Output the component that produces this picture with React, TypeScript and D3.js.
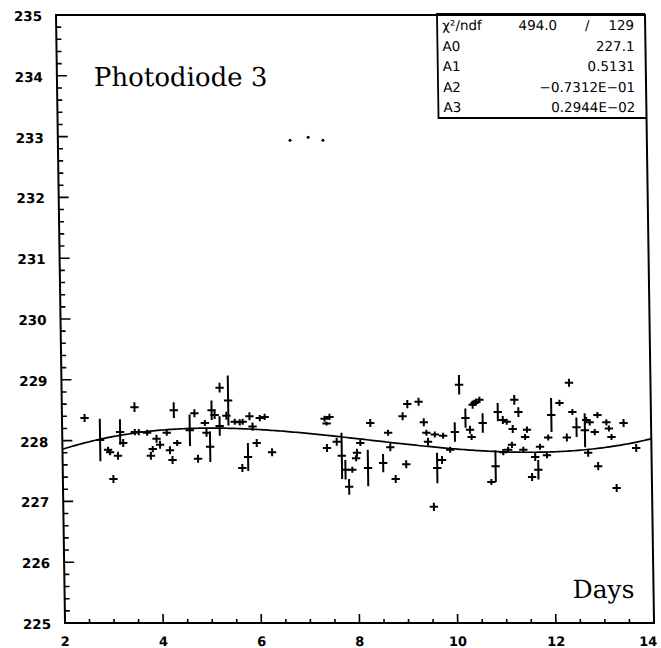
import React from "react";
import * as d3 from "d3";

// ---- data ----
const days = [
  2.46, 2.77, 2.93, 2.97, 3.13, 3.03, 3.24, 3.18, 3.48, 3.48, 3.56, 3.73, 3.80, 3.84, 3.92, 3.99,
  4.13, 4.19, 4.24, 4.28, 4.34, 4.60, 4.70, 4.76, 4.91, 4.94, 5.01, 5.05, 5.11, 5.22, 5.39, 5.21,
  5.35, 5.52, 5.62, 5.68, 5.82, 5.88, 5.78, 5.66, 5.96, 6.03, 6.13, 6.27,
  7.35, 7.45, 7.39, 7.39, 7.59, 7.69, 7.76, 7.83, 7.90, 8.00, 8.07, 7.98, 8.22, 8.28, 8.53, 8.68,
  8.78, 9.00, 8.94, 9.04, 9.27, 8.64, 9.37, 9.42, 9.45, 9.63, 9.73, 9.90, 9.59, 9.76, 10.10, 10.00,
  10.22, 10.37, 10.44, 10.34, 9.55,
  10.51, 10.41, 10.57, 10.31, 11.22, 11.30, 10.88, 10.98, 11.06, 11.18, 11.47, 11.43, 10.82, 10.73,
  10.98, 11.08, 11.16, 11.39, 11.63, 11.69, 11.56, 11.73, 11.87, 11.90, 11.97, 12.14, 12.28, 12.34,
  12.40, 12.48, 12.65, 12.68, 12.75, 12.85, 12.91, 13.09, 13.14, 13.19, 12.71, 12.91, 13.44, 13.69,
  13.28,
];
const values = [
  228.37, 228.01, 227.85, 227.81, 227.75, 227.37, 227.96, 228.14, 228.55, 228.14, 228.14, 228.13,
  227.75, 227.86, 228.03, 227.93, 228.13, 227.84, 227.68, 228.50, 227.96, 228.17, 228.45, 227.70,
  228.29, 228.13, 227.90, 228.50, 228.42, 228.87, 228.66, 228.24, 228.41, 228.31, 228.30, 228.31,
  228.40, 228.23, 227.73, 227.55, 227.96, 228.37, 228.39, 227.81,
  228.36, 228.39, 228.28, 227.88, 227.98, 227.75, 227.52, 227.24, 227.52, 227.80, 227.96, 227.71,
  227.55, 228.29, 227.63, 227.89, 227.37, 227.61, 228.40, 228.60, 228.64, 228.13, 228.30, 228.13,
  227.98, 227.55, 227.68, 227.85, 228.10, 228.08, 228.92, 228.14, 228.37, 228.59, 228.64, 228.06,
  226.91,
  228.67, 228.62, 228.29, 228.18, 228.67, 228.47, 228.47, 228.34, 228.31, 228.19, 228.18, 228.06,
  227.58, 227.32, 227.81, 227.85, 227.93, 227.85, 227.73, 227.52, 227.40, 227.90, 227.76, 228.05,
  228.42, 228.62, 228.05, 228.95, 228.47, 228.22, 228.17, 228.34, 228.30, 228.14, 228.42, 228.30,
  228.20, 228.06, 227.80, 227.58, 228.29, 227.88, 227.22,
];
const errors = [
  0.066, 0.35, 0.05, 0.05, 0.066, 0.066, 0.066, 0.21, 0.08, 0.05, 0.05, 0.05, 0.066, 0.05, 0.066,
  0.066, 0.05, 0.066, 0.066, 0.13, 0.05, 0.26, 0.066, 0.066, 0.05, 0.066, 0.25, 0.16, 0.066, 0.08,
  0.41, 0.16, 0.066, 0.05, 0.05, 0.05, 0.066, 0.066, 0.23, 0.066, 0.066, 0.05, 0.05, 0.066,
  0.05, 0.05, 0.03, 0.066, 0.066, 0.38, 0.16, 0.13, 0.05, 0.066, 0.05, 0.05, 0.30, 0.066, 0.15,
  0.066, 0.066, 0.066, 0.066, 0.066, 0.066, 0.05, 0.066, 0.05, 0.066, 0.25, 0.066, 0.05, 0.05,
  0.05, 0.16, 0.16, 0.16, 0.066, 0.05, 0.05, 0.066,
  0.05, 0.05, 0.16, 0.066, 0.08, 0.08, 0.15, 0.066, 0.05, 0.066, 0.05, 0.05, 0.26, 0.05, 0.05,
  0.05, 0.05, 0.05, 0.066, 0.16, 0.066, 0.05, 0.05, 0.05, 0.28, 0.05, 0.066, 0.066, 0.05, 0.16,
  0.28, 0.05, 0.05, 0.05, 0.05, 0.05, 0.05, 0.05, 0.066, 0.066, 0.066, 0.066, 0.066,
];
const dayHalfWidth = 0.085;

const strayDays = [6.73, 7.1, 7.4];
const strayValues = [232.94, 232.99, 232.94];

const fitParams = [227.1, 0.5131, -0.07312, 0.002944];
const statLabels = ["A0", "A1", "A2", "A3"];
const statValues = ["227.1", "0.5131", "\u22120.7312E\u221201", "0.2944E\u221202"];
const chi2 = "494.0";
const ndf = "129";

const xTicks = [2, 4, 6, 8, 10, 12, 14];
const yTicks = [225, 226, 227, 228, 229, 230, 231, 232, 233, 234, 235];

const W = 661;
const H = 648;
const L = 56, R = 645, T = 15, B = 623;

export default function App() {
  const x = d3.scaleLinear().domain([2, 14]).range([L, R]);
  const y = d3.scaleLinear().domain([225, 235]).range([B, T]);

  const fit = (t: number) => fitParams.reduce((s, a, i) => s + a * Math.pow(t, i), 0);
  const curveX = d3.range(2, 14.0001, 0.05);
  const line = d3.line<number>().x((d) => x(d)).y((d) => y(fit(d)));

  const xMinor = d3.range(2, 14.001, 0.5);
  const yMinor = d3.range(225, 235.001, 0.2);

  const tickFont = "'DejaVu Sans', sans-serif";
  const serif = "'DejaVu Serif', serif";

  return (
    <svg width={W} height={H} style={{ position: "absolute", left: 0, top: 0, background: "#fff" }}>
      <g transform={`translate(0,${T}) skewX(0.85) translate(0,${-T})`}>
        {/* frame */}
        <rect x={L} y={T} width={R - L} height={B - T} fill="none" stroke="#000" strokeWidth={2} />
        {/* y ticks */}
        {yMinor.map((v, i) => {
          const major = Math.abs(v - Math.round(v)) < 1e-6;
          return (
            <line key={"ym" + i} x1={L} x2={L + (major ? 10 : 5)} y1={y(v)} y2={y(v)} stroke="#000" strokeWidth={1.6} />
          );
        })}
        {/* x ticks */}
        {xMinor.map((v, i) => {
          const major = Math.abs(v / 2 - Math.round(v / 2)) < 1e-6;
          return (
            <line key={"xm" + i} x1={x(v)} x2={x(v)} y1={B} y2={B - (major ? 9 : 4)} stroke="#000" strokeWidth={1.6} />
          );
        })}
        {yTicks.map((v) => (
          <text key={"yl" + v} x={L - 14} y={y(v) + 6} textAnchor="end" fontFamily={tickFont} fontWeight="bold" fontSize={13.5}>
            {v}
          </text>
        ))}
        {xTicks.map((v, i) => (
          <text
            key={"xl" + v}
            x={i === xTicks.length - 1 ? x(v) - 6 : x(v)}
            y={B + 23}
            textAnchor="middle"
            fontFamily={tickFont}
            fontWeight="bold"
            fontSize={13}
          >
            {v}
          </text>
        ))}

        {/* fit curve */}
        <path d={line(curveX) || ""} fill="none" stroke="#000" strokeWidth={1.7} />

        {/* data points */}
        {days.map((d, i) => (
          <g key={"p" + i} stroke="#000" strokeWidth={2}>
            <line x1={x(d - dayHalfWidth)} x2={x(d + dayHalfWidth)} y1={y(values[i])} y2={y(values[i])} />
            <line x1={x(d)} x2={x(d)} y1={y(values[i] - errors[i])} y2={y(values[i] + errors[i])} />
          </g>
        ))}
        {strayDays.map((d, i) => (
          <circle key={"s" + i} cx={x(d)} cy={y(strayValues[i])} r={1.5} fill="#000" />
        ))}

        {/* labels */}
        <text x={93} y={86} fontFamily={serif} fontSize={26}>Photodiode 3</text>
        <text x={564} y={598} fontFamily={serif} fontSize={25}>Days</text>

        {/* stats box */}
        <g fontFamily={tickFont} fontSize={13.5}>
          <polyline points={`437,${T - 2} 437,118 ${R},118`} fill="none" stroke="#000" strokeWidth={1.8} />
          <line x1={437} x2={R} y1={T - 1} y2={T - 1} stroke="#000" strokeWidth={2} />
          <text x={442} y={30}>χ²/ndf</text>
          <text x={557} y={30} textAnchor="end">{chi2}</text>
          <text x={587} y={30} textAnchor="middle">/</text>
          <text x={634} y={30} textAnchor="end">{ndf}</text>
          {statLabels.map((s, i) => (
            <g key={s}>
              <text x={442} y={51 + i * 20.5}>{s}</text>
              <text x={634} y={51 + i * 20.5} textAnchor="end">{statValues[i]}</text>
            </g>
          ))}
        </g>
      </g>
    </svg>
  );
}
